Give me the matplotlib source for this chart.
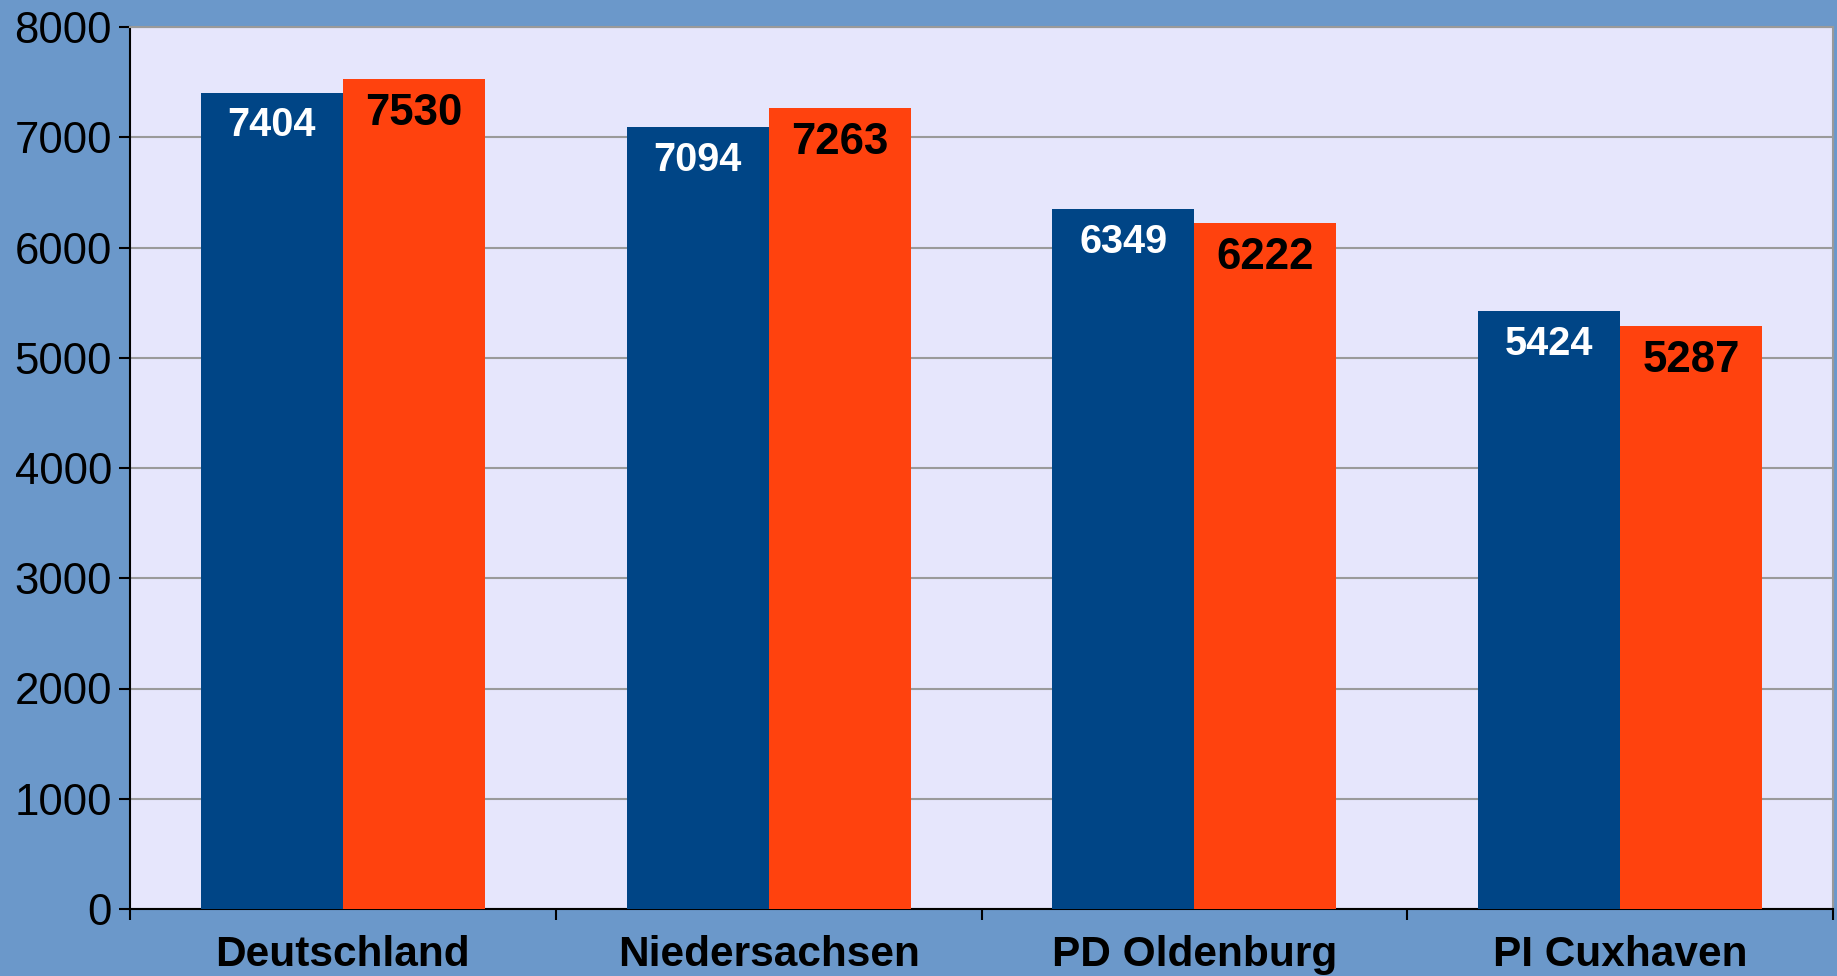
import matplotlib
matplotlib.use("Agg")
import matplotlib.pyplot as plt
import numpy as np

categories = ["Deutschland", "Niedersachsen", "PD Oldenburg", "PI Cuxhaven"]
series_a = [7404, 7094, 6349, 5424]
series_b = [7530, 7263, 6222, 5287]
y_ticks = [0, 1000, 2000, 3000, 4000, 5000, 6000, 7000, 8000]

plt.rcParams['font.family'] = ['Liberation Sans', 'DejaVu Sans']

W, H = 1837, 976
fig = plt.figure(figsize=(W / 100, H / 100), dpi=100)
fig.patch.set_facecolor('#6B98CA')
ax = fig.add_axes([130 / W, (H - 909) / H, 1703 / W, (909 - 27) / H])
ax.set_facecolor('#E6E6FC')

x = np.arange(len(categories))
bw = 1 / 3
bars_a = ax.bar(x - bw / 2, series_a, width=bw, color='#004586', zorder=3)
bars_b = ax.bar(x + bw / 2, series_b, width=bw, color='#FF420E', zorder=3)

for xi, v in zip(x - bw / 2, series_a):
    ax.annotate(f"{v}", xy=(xi, v), xytext=(0, -31.5), textcoords='offset points',
                ha='center', va='baseline', color='white', fontsize=28.5, fontweight='bold', zorder=4)
for xi, v in zip(x + bw / 2, series_b):
    ax.annotate(f"{v}", xy=(xi, v), xytext=(0, -33), textcoords='offset points',
                ha='center', va='baseline', color='black', fontsize=31.5, fontweight='bold', zorder=4)

ax.set_xlim(-0.5, len(categories) - 0.5)
ax.set_ylim(0, 8000)
ax.set_yticks(y_ticks)
ax.set_yticklabels([str(t) for t in y_ticks], fontsize=31.5)
ax.yaxis.grid(True, color='#9a9a9a', linewidth=1.5, zorder=0)
ax.set_axisbelow(True)

ax.set_xticks(np.arange(-0.5, len(categories), 1.0))
ax.set_xticklabels([])
ax.set_xticks(x, minor=True)
ax.set_xticklabels(categories, minor=True, fontsize=30.5, fontweight='bold')
ax.tick_params(axis='x', which='major', direction='out', length=8, width=1.5, color='black')
ax.tick_params(axis='x', which='minor', length=0, pad=19)
ax.tick_params(axis='y', direction='out', length=8, width=1.5, color='black', pad=5)

for s in ['left', 'bottom']:
    ax.spines[s].set_color('black')
    ax.spines[s].set_linewidth(1.5)
for s in ['top', 'right']:
    ax.spines[s].set_color('#9a9a9a')
    ax.spines[s].set_linewidth(1.5)

fig.savefig('out.png', dpi=100, facecolor=fig.get_facecolor())
